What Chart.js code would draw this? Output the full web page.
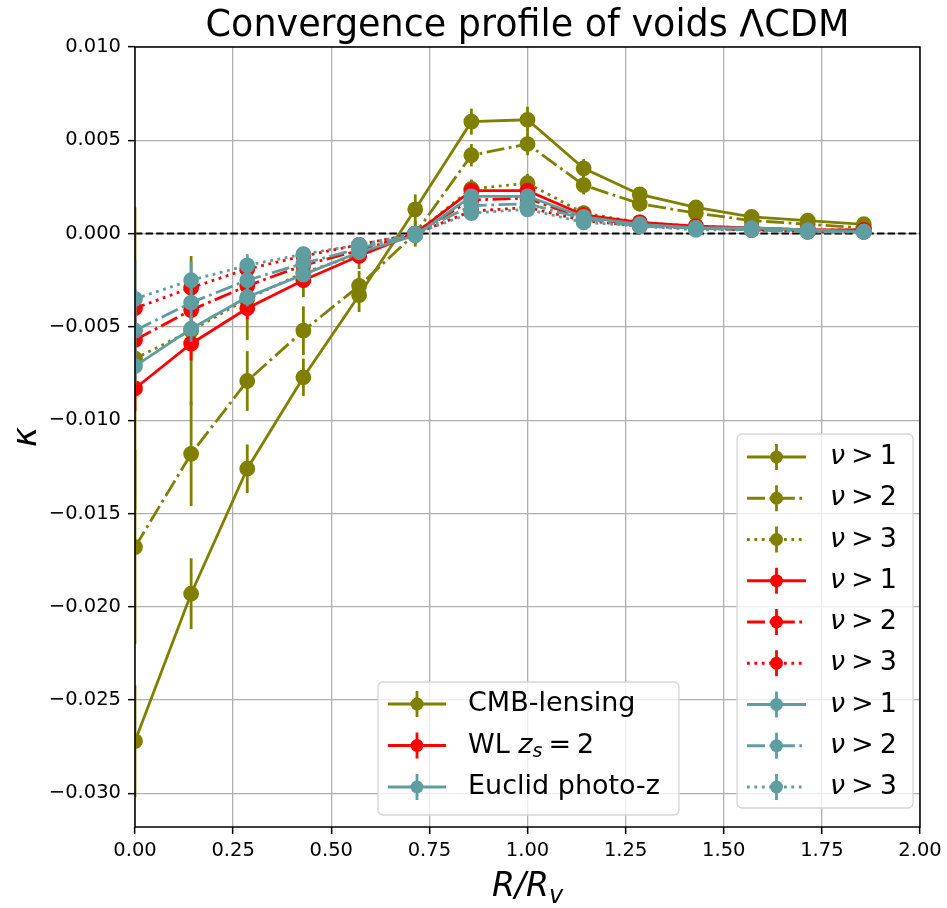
<!DOCTYPE html>
<html lang="en">
<head>
    <meta charset="UTF-8">
    <title>Convergence profile of voids</title>
    <script src="https://cdn.jsdelivr.net/npm/chart.js"></script>
    <style>
        body { margin: 0; background: white; }
        #wrap { position: relative; width: 947px; height: 908px; }
    </style>
</head>
<body>
<div id="wrap">
    <canvas id="myChart" width="947" height="908"></canvas>
</div>

<script>
    // radial bins R/Rv
    const rv = [0, 0.143, 0.286, 0.429, 0.571, 0.714, 0.857, 1.0, 1.143, 1.286, 1.429, 1.571, 1.714, 1.857];

    // CMB-lensing
    const cmb1 = [-0.0272, -0.0193, -0.0126, -0.0077, -0.0033, 0.0013, 0.0060, 0.0061, 0.0035, 0.0021, 0.0014, 0.0009, 0.0007, 0.0005];
    const cmb1Err = [0.0030, 0.0019, 0.0013, 0.0010, 0.0009, 0.0008, 0.0007, 0.0007, 0.0005, 0.0004, 0.0003, 0.0003, 0.0002, 0.0002];
    const cmb2 = [-0.0168, -0.0118, -0.0079, -0.0052, -0.0028, 0.0000, 0.0042, 0.0048, 0.0026, 0.0016, 0.0011, 0.0007, 0.0005, 0.0003];
    const cmb2Err = [0.0052, 0.0028, 0.0016, 0.0013, 0.0008, 0.0007, 0.0006, 0.0006, 0.0005, 0.0004, 0.0003, 0.0002, 0.0002, 0.0002];
    const cmb3 = [-0.0067, -0.0052, -0.0035, -0.0021, -0.0011, 0.0000, 0.0024, 0.0027, 0.0011, 0.0006, 0.0004, 0.0003, 0.0002, 0.0002];
    const cmb3Err = [0.0081, 0.0040, 0.0022, 0.0013, 0.0008, 0.0006, 0.0005, 0.0005, 0.0004, 0.0003, 0.0002, 0.0002, 0.0002, 0.0002];

    // WL zs = 2
    const wl1 = [-0.0083, -0.0059, -0.0040, -0.0025, -0.0012, 0.0000, 0.0023, 0.0023, 0.0010, 0.0006, 0.0004, 0.0003, 0.0002, 0.0002];
    const wl1Err = [0.0012, 0.0009, 0.0006, 0.0004, 0.0003, 0.0002, 0.0002, 0.0002, 0.0002, 0.0001, 0.0001, 0.0001, 0.0001, 0.0001];
    const wl2 = [-0.0057, -0.0041, -0.0028, -0.0017, -0.0009, 0.0000, 0.0018, 0.0019, 0.0008, 0.0005, 0.0003, 0.0002, 0.0002, 0.0001];
    const wl2Err = [0.0010, 0.0007, 0.0005, 0.0003, 0.0002, 0.0002, 0.0002, 0.0002, 0.0001, 0.0001, 0.0001, 0.0001, 0.0001, 0.0001];
    const wl3 = [-0.0040, -0.0029, -0.0019, -0.0012, -0.0006, 0.0000, 0.0012, 0.0014, 0.0007, 0.0004, 0.0003, 0.0002, 0.0001, 0.0001];
    const wl3Err = [0.0010, 0.0007, 0.0005, 0.0003, 0.0002, 0.0002, 0.0002, 0.0002, 0.0001, 0.0001, 0.0001, 0.0001, 0.0001, 0.0001];

    // Euclid photo-z
    const eu1 = [-0.0071, -0.0051, -0.0034, -0.0022, -0.0010, -0.0001, 0.0020, 0.0020, 0.0009, 0.0005, 0.0003, 0.0003, 0.0002, 0.0001];
    const eu1Err = [0.0010, 0.0007, 0.0005, 0.0003, 0.0002, 0.0002, 0.0002, 0.0002, 0.0001, 0.0001, 0.0001, 0.0001, 0.0001, 0.0001];
    const eu2 = [-0.0052, -0.0037, -0.0025, -0.0016, -0.0008, 0.0000, 0.0015, 0.0016, 0.0008, 0.0004, 0.0003, 0.0002, 0.0001, 0.0001];
    const eu2Err = [0.0014, 0.0008, 0.0005, 0.0003, 0.0002, 0.0002, 0.0002, 0.0002, 0.0001, 0.0001, 0.0001, 0.0001, 0.0001, 0.0001];
    const eu3 = [-0.0035, -0.0025, -0.0017, -0.0011, -0.0006, 0.0000, 0.0011, 0.0013, 0.0006, 0.0004, 0.0002, 0.0002, 0.0001, 0.0001];
    const eu3Err = [0.0021, 0.0010, 0.0006, 0.0004, 0.0003, 0.0002, 0.0002, 0.0002, 0.0001, 0.0001, 0.0001, 0.0001, 0.0001, 0.0001];

    const xTicks = [0, 0.25, 0.5, 0.75, 1.0, 1.25, 1.5, 1.75, 2.0];
    const yTicks = [-0.030, -0.025, -0.020, -0.015, -0.010, -0.005, 0.000, 0.005, 0.010];

    const sampleNames = ['CMB-lensing', 'WL', 'Euclid photo-z'];
    const cutNames = ['1', '2', '3'];

    const OLIVE = '#808000';
    const RED = '#ff0000';
    const TEAL = '#5f9ea0';

    const SOLID = [];
    const DASHDOT = [18, 4.5, 2.8, 4.5];
    const DOTTED = [2.8, 4.6];

    const LW = 2.8;
    const FONT = '"DejaVu Sans", sans-serif';

    function makeSet(label, ys, errs, color, dash, order) {
        return {
            label: label,
            data: rv.map((x, i) => ({ x: x, y: ys[i] })),
            errors: errs,
            borderColor: color,
            backgroundColor: color,
            pointBackgroundColor: color,
            pointBorderColor: color,
            borderWidth: LW,
            borderDash: dash,
            pointRadius: 6.5,
            pointHoverRadius: 6.5,
            tension: 0,
            fill: false,
            order: order
        };
    }

    // later series are drawn on top, like the original plotting order
    const datasets = [
        makeSet('CMB ν>1', cmb1, cmb1Err, OLIVE, SOLID, 9),
        makeSet('CMB ν>2', cmb2, cmb2Err, OLIVE, DASHDOT, 8),
        makeSet('CMB ν>3', cmb3, cmb3Err, OLIVE, DOTTED, 7),
        makeSet('WL ν>1', wl1, wl1Err, RED, SOLID, 6),
        makeSet('WL ν>2', wl2, wl2Err, RED, DASHDOT, 5),
        makeSet('WL ν>3', wl3, wl3Err, RED, DOTTED, 4),
        makeSet('Euclid ν>1', eu1, eu1Err, TEAL, SOLID, 3),
        makeSet('Euclid ν>2', eu2, eu2Err, TEAL, DASHDOT, 2),
        makeSet('Euclid ν>3', eu3, eu3Err, TEAL, DOTTED, 1)
    ];

    // vertical error bars, painted right before each series
    const errorBars = {
        id: 'errorBars',
        beforeDatasetDraw(chart, args) {
            const ds = chart.data.datasets[args.index];
            if (!ds.errors) return;
            const ctx = chart.ctx;
            const xs = chart.scales.x, ys = chart.scales.y;
            const a = chart.chartArea;
            ctx.save();
            ctx.beginPath();
            ctx.rect(a.left, a.top, a.right - a.left, a.bottom - a.top);
            ctx.clip();
            ctx.strokeStyle = ds.borderColor;
            ctx.lineWidth = LW;
            ctx.setLineDash([]);
            ds.data.forEach((p, i) => {
                const px = xs.getPixelForValue(p.x);
                ctx.beginPath();
                ctx.moveTo(px, ys.getPixelForValue(p.y - ds.errors[i]));
                ctx.lineTo(px, ys.getPixelForValue(p.y + ds.errors[i]));
                ctx.stroke();
            });
            ctx.restore();
        }
    };

    // dashed zero line under the data
    const zeroLine = {
        id: 'zeroLine',
        beforeDatasetsDraw(chart) {
            const ctx = chart.ctx;
            const a = chart.chartArea;
            const y0 = chart.scales.y.getPixelForValue(0);
            ctx.save();
            ctx.strokeStyle = 'black';
            ctx.lineWidth = 2;
            ctx.setLineDash([7.4, 3.2]);
            ctx.beginPath();
            ctx.moveTo(a.left, y0);
            ctx.lineTo(a.right, y0);
            ctx.stroke();
            ctx.restore();
        }
    };

    function drawHandle(ctx, x0, x1, y, color, dash) {
        ctx.save();
        ctx.strokeStyle = color;
        ctx.fillStyle = color;
        ctx.lineWidth = LW;
        ctx.setLineDash(dash);
        ctx.beginPath();
        ctx.moveTo(x0, y);
        ctx.lineTo(x1, y);
        ctx.stroke();
        ctx.setLineDash([]);
        const xm = (x0 + x1) / 2;
        ctx.beginPath();
        ctx.moveTo(xm, y - 13);
        ctx.lineTo(xm, y + 13);
        ctx.stroke();
        ctx.beginPath();
        ctx.arc(xm, y, 6.5, 0, Math.PI * 2);
        ctx.fill();
        ctx.restore();
    }

    function drawBox(ctx, x, y, w, h) {
        ctx.save();
        ctx.fillStyle = 'rgba(255,255,255,0.8)';
        ctx.strokeStyle = '#d6d6d6';
        ctx.lineWidth = 1.3;
        ctx.beginPath();
        ctx.roundRect(x, y, w, h, 5);
        ctx.fill();
        ctx.stroke();
        ctx.restore();
    }

    // frame, title, axis labels and the two legends
    const decorations = {
        id: 'decorations',
        afterDatasetsDraw(chart) {
            const ctx = chart.ctx;
            const a = chart.chartArea;
            ctx.save();
            ctx.strokeStyle = 'black';
            ctx.lineWidth = 1.5;
            ctx.strokeRect(a.left, a.top, a.right - a.left, a.bottom - a.top);
            ctx.restore();
        },
        afterDraw(chart) {
            const ctx = chart.ctx;
            const a = chart.chartArea;
            const cx = (a.left + a.right) / 2;

            ctx.save();
            ctx.fillStyle = 'black';
            ctx.textBaseline = 'alphabetic';

            // title
            ctx.font = '36.5px ' + FONT;
            ctx.textAlign = 'center';
            ctx.fillText('Convergence profile of voids ΛCDM', cx, 36);

            // x label R/R_v
            ctx.font = 'italic 33px ' + FONT;
            const main = 'R/R';
            const wMain = ctx.measureText(main).width;
            ctx.font = 'italic 24px ' + FONT;
            const wSub = ctx.measureText('v').width;
            let x0 = cx - (wMain + wSub) / 2;
            ctx.textAlign = 'left';
            ctx.font = 'italic 33px ' + FONT;
            ctx.fillText(main, x0, 896);
            ctx.font = 'italic 24px ' + FONT;
            ctx.fillText('v', x0 + wMain, 903);

            // y label kappa
            ctx.save();
            ctx.translate(36, 437);
            ctx.rotate(-Math.PI / 2);
            ctx.font = 'italic 34px ' + FONT;
            ctx.textAlign = 'center';
            ctx.fillText('κ', 0, 0);
            ctx.restore();

            // legend of the samples
            drawBox(ctx, 378, 682, 301, 133);
            const sampleColors = [OLIVE, RED, TEAL];
            const rowY1 = [704, 745.5, 787];
            ctx.textBaseline = 'middle';
            for (let i = 0; i < 3; i++) {
                drawHandle(ctx, 388, 446, rowY1[i], sampleColors[i], SOLID);
                ctx.fillStyle = 'black';
                ctx.font = '27px ' + FONT;
                if (i === 1) {
                    let tx = 468;
                    ctx.fillText('WL ', tx, rowY1[i]);
                    tx += ctx.measureText('WL ').width;
                    ctx.font = 'italic 27px ' + FONT;
                    ctx.fillText('z', tx, rowY1[i]);
                    tx += ctx.measureText('z').width;
                    ctx.font = 'italic 19px ' + FONT;
                    ctx.fillText('s', tx, rowY1[i] + 7);
                    tx += ctx.measureText('s').width + 6;
                    ctx.font = '27px ' + FONT;
                    ctx.fillText('=', tx, rowY1[i]);
                    tx += ctx.measureText('=').width + 6;
                    ctx.fillText('2', tx, rowY1[i]);
                } else {
                    ctx.fillText(sampleNames[i], 468, rowY1[i]);
                }
            }

            // legend of the threshold cuts
            drawBox(ctx, 737, 434, 176, 374);
            const dashes = [SOLID, DASHDOT, DOTTED];
            for (let s = 0; s < 3; s++) {
                for (let c = 0; c < 3; c++) {
                    const row = s * 3 + c;
                    const y = 457 + row * 41.25;
                    drawHandle(ctx, 747, 806, y, sampleColors[s], dashes[c]);
                    ctx.fillStyle = 'black';
                    ctx.font = 'italic 27px ' + FONT;
                    let tx = 830;
                    ctx.fillText('ν', tx, y);
                    tx += ctx.measureText('ν').width + 6;
                    ctx.font = '27px ' + FONT;
                    ctx.fillText('>', tx, y);
                    tx += ctx.measureText('>').width + 6;
                    ctx.fillText(cutNames[c], tx, y);
                }
            }
            ctx.restore();
        }
    };

    const config = {
        type: 'line',
        data: { datasets: datasets },
        options: {
            responsive: false,
            animation: false,
            layout: { padding: { left: 0, right: 27, top: 47, bottom: 0 } },
            plugins: {
                legend: { display: false },
                title: { display: false },
                tooltip: { enabled: false }
            },
            scales: {
                x: {
                    type: 'linear',
                    min: 0,
                    max: 2.0,
                    afterBuildTicks: (scale) => { scale.ticks = xTicks.map(v => ({ value: v })); },
                    afterFit: (scale) => { scale.height = 81; },
                    ticks: {
                        font: { family: FONT, size: 19.5 },
                        color: 'black',
                        padding: 5,
                        maxRotation: 0,
                        callback: (v) => v.toFixed(2)
                    },
                    grid: { color: '#b0b0b0', lineWidth: 1.3, tickColor: 'black', tickLength: 7, tickWidth: 1.5 },
                    border: { display: false }
                },
                y: {
                    type: 'linear',
                    min: -0.0318,
                    max: 0.010,
                    afterBuildTicks: (scale) => { scale.ticks = yTicks.map(v => ({ value: v })); },
                    afterFit: (scale) => { scale.width = 135; },
                    ticks: {
                        font: { family: FONT, size: 19.5 },
                        color: 'black',
                        padding: 7,
                        callback: (v) => v.toFixed(3).replace('-', '\u2212')
                    },
                    grid: { color: '#b0b0b0', lineWidth: 1.3, tickColor: 'black', tickLength: 7, tickWidth: 1.5 },
                    border: { display: false }
                }
            }
        },
        plugins: [zeroLine, errorBars, decorations]
    };

    const myChart = new Chart(document.getElementById('myChart'), config);
</script>
</body>
</html>
